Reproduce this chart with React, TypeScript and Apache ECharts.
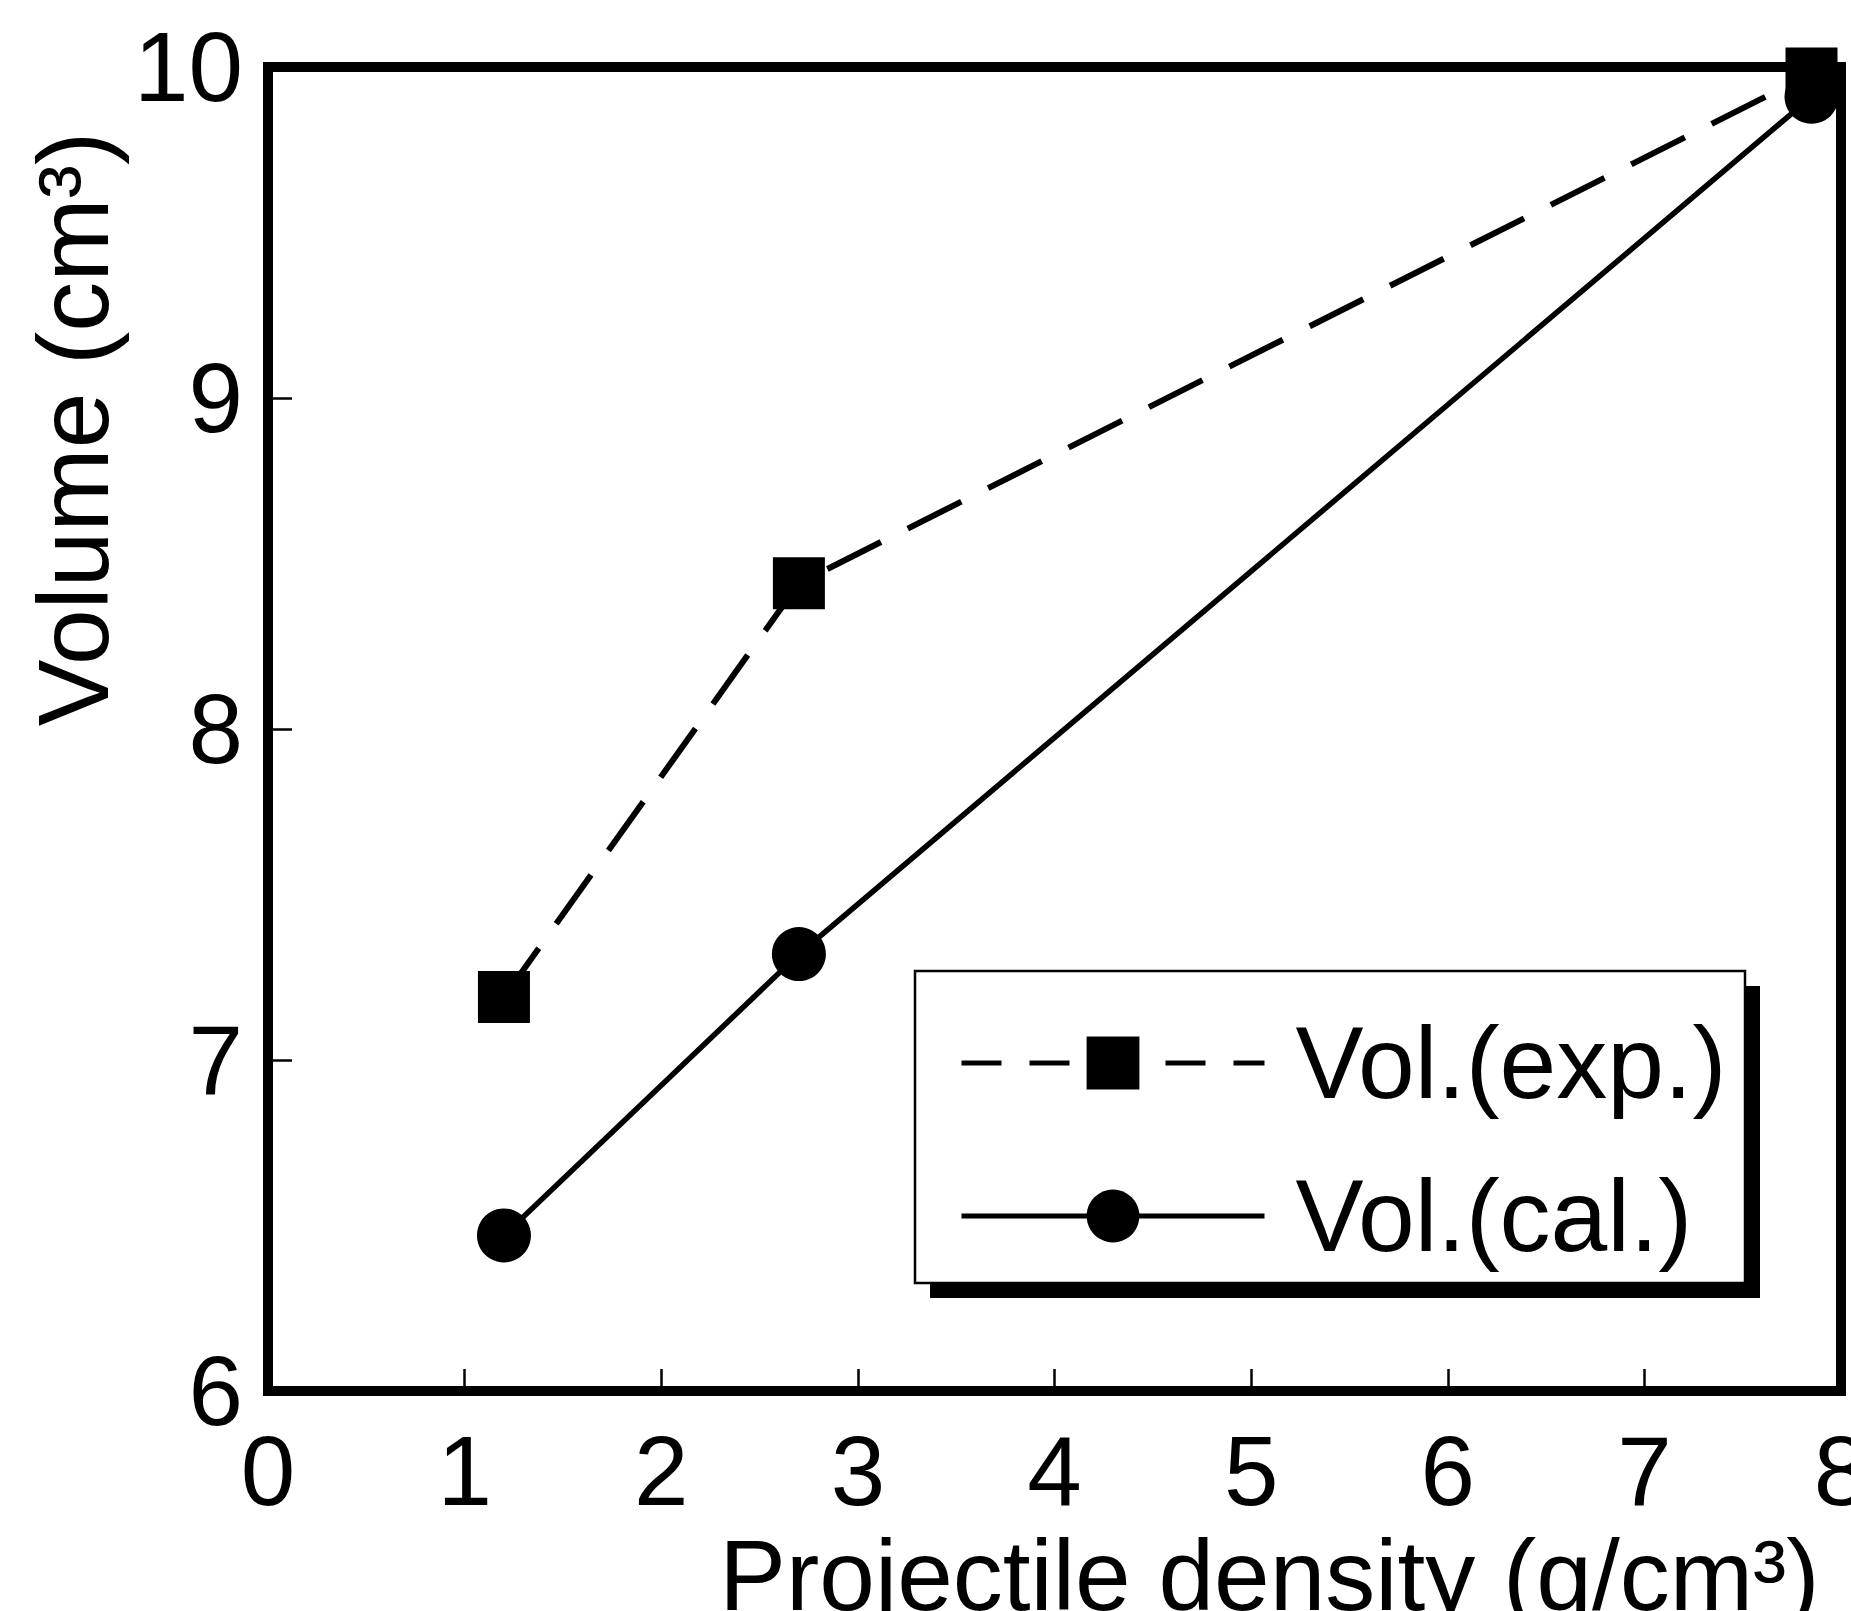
import React, { useEffect, useRef } from "react";
import * as echarts from "echarts";

const xTicks = [0, 1, 2, 3, 4, 5, 6, 7, 8];
const yTicks = [6, 7, 8, 9, 10];
const densities = [1.2, 2.7, 7.85];
const volExp = [7.19, 8.44, 9.98];
const volCal = [6.47, 7.32, 9.91];
const seriesNames = ["Vol.(exp.)", "Vol.(cal.)"];
const xTitle = "Projectile density (g/cm³)";
const yTitle = "Volume (cm³)";

const FONT = "'Liberation Sans', Arial, Helvetica, sans-serif";

export default function App() {
  const ref = useRef<HTMLDivElement>(null);
  useEffect(() => {
    if (!ref.current) return;
    const chart = echarts.init(ref.current, null, { renderer: "svg" });
    const expData = densities.map((d, i) => [d, volExp[i]]);
    const calData = densities.map((d, i) => [d, volCal[i]]);
    chart.setOption({
      animation: false,
      backgroundColor: "#ffffff",
      textStyle: { fontFamily: FONT, color: "#000" },
      grid: {
        left: 268,
        top: 67,
        width: 1573,
        height: 1324,
        show: true,
        borderColor: "#000",
        borderWidth: 10,
        backgroundColor: "transparent",
        containLabel: false,
        outerBoundsMode: "none",
      },
      xAxis: {
        type: "value",
        min: xTicks[0],
        max: xTicks[xTicks.length - 1],
        interval: 1,
        axisLine: { show: false },
        splitLine: { show: false },
        axisTick: { show: true, inside: true, length: 22, lineStyle: { color: "#000", width: 2.5 } },
        axisLabel: {
          show: true,
          margin: 31,
          fontSize: 98,
          color: "#000",
          fontFamily: FONT,
          showMinLabel: true,
          showMaxLabel: true,
          hideOverlap: false,
        },
        name: xTitle,
        nameLocation: "middle",
        nameGap: 112,
        nameTextStyle: { fontSize: 100, color: "#000", fontFamily: FONT, padding: [0, 0, 0, 430] },
      },
      yAxis: {
        type: "value",
        min: yTicks[0],
        max: yTicks[yTicks.length - 1],
        interval: 1,
        axisLine: { show: false },
        splitLine: { show: false },
        axisTick: { show: true, inside: true, length: 24, lineStyle: { color: "#000", width: 2.5 } },
        axisLabel: {
          show: true,
          margin: 25,
          fontSize: 98,
          color: "#000",
          fontFamily: FONT,
          padding: [14, 0, 0, 0],
          showMinLabel: true,
          showMaxLabel: true,
        },
        name: yTitle,
        nameLocation: "middle",
        nameRotate: 90,
        nameGap: 135,
        nameTextStyle: { fontSize: 100, color: "#000", fontFamily: FONT, padding: [0, 0, 0, 600] },
      },
      legend: {
        show: true,
        orient: "vertical",
        left: 959,
        top: 1012,
        padding: 0,
        itemGap: 51,
        itemWidth: 303,
        itemHeight: 66,
        z: 5,
        textStyle: { fontSize: 102, color: "#000", fontFamily: FONT, padding: [0, 0, 0, 26] },
        data: [
          { name: seriesNames[0], lineStyle: { type: [40, 28], width: 5, color: "#000" } },
          { name: seriesNames[1], lineStyle: { type: "solid", width: 5, color: "#000" } },
        ],
      },
      graphic: [
        {
          type: "rect",
          z: 1,
          shape: { x: 930, y: 986, width: 830, height: 312 },
          style: { fill: "#000" },
        },
        {
          type: "rect",
          z: 1,
          shape: { x: 915, y: 971, width: 830, height: 312 },
          style: { fill: "#fff", stroke: "#000", lineWidth: 2.5 },
        },
      ],
      series: [
        {
          name: seriesNames[0],
          type: "line",
          data: expData,
          clip: false,
          symbol: "rect",
          symbolSize: 52,
          itemStyle: { color: "#000" },
          lineStyle: { color: "#000", width: 6, type: [60, 30] },
          z: 3,
        },
        {
          name: seriesNames[1],
          type: "line",
          data: calData,
          clip: false,
          symbol: "circle",
          symbolSize: 54,
          itemStyle: { color: "#000" },
          lineStyle: { color: "#000", width: 5.5, type: "solid" },
          z: 3,
        },
      ],
    });
    return () => chart.dispose();
  }, []);
  return (
    <div
      ref={ref}
      style={{ position: "fixed", left: 0, top: 0, width: 1851, height: 1611, background: "#fff" }}
    />
  );
}
